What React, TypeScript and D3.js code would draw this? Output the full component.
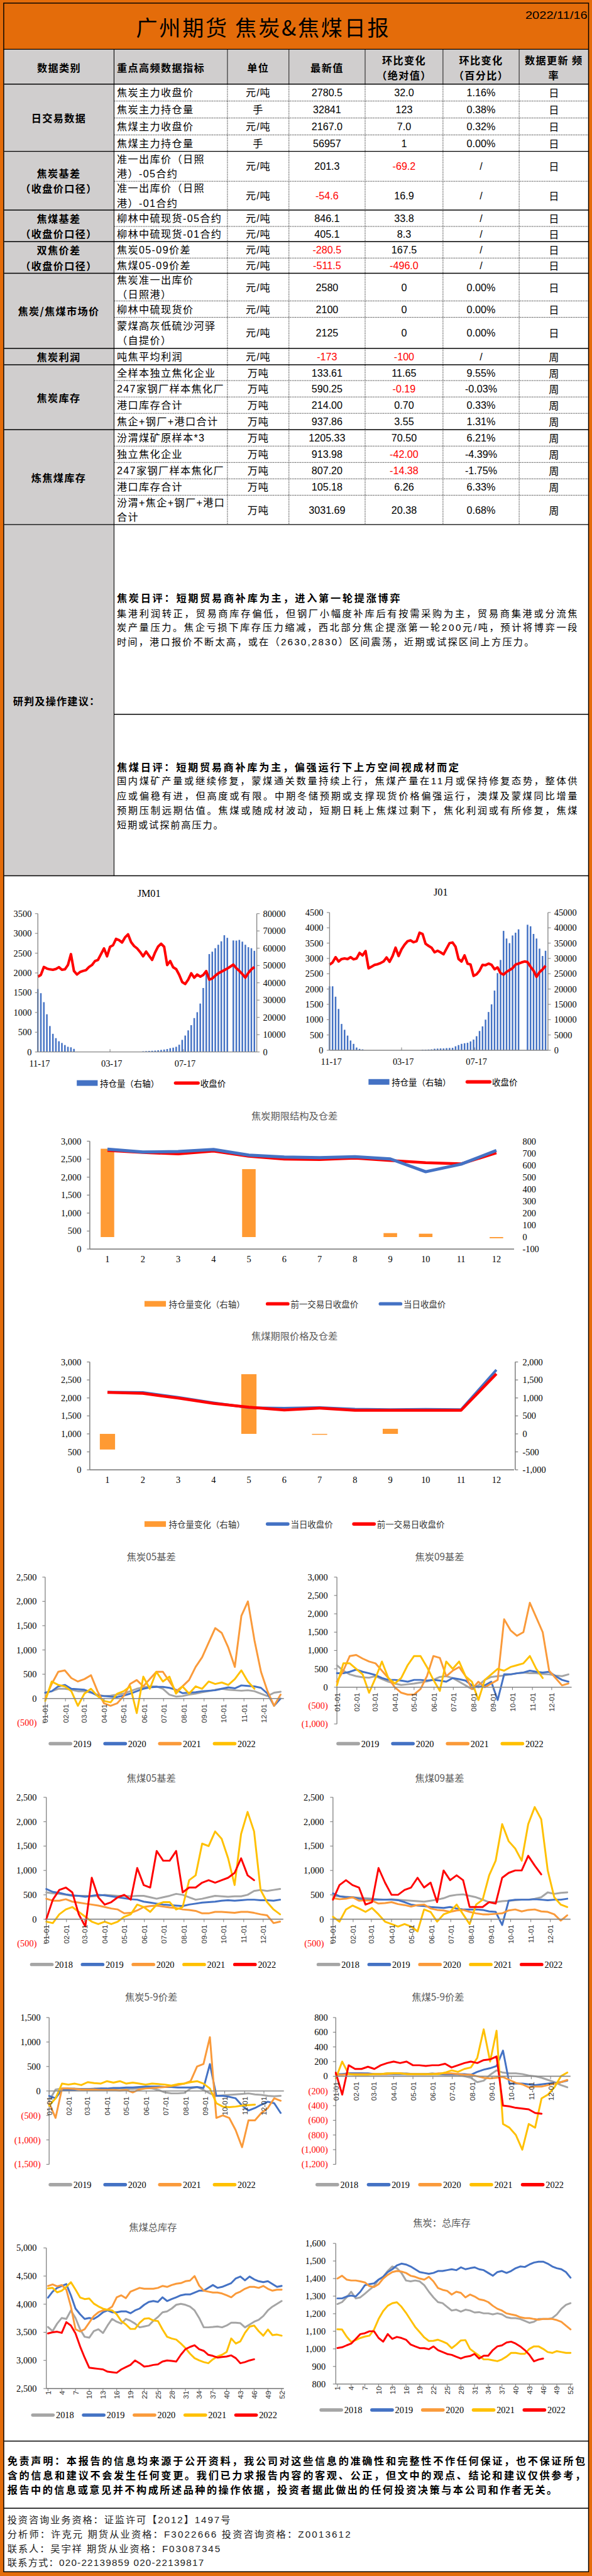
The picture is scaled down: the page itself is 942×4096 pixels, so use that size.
import React from "react";
import * as d3 from "d3";

// ---------------- report text ----------------
const reportTitle = "广州期货  焦炭&焦煤日报";
const reportDate = "2022/11/16";

const headerCols = [["数据类别"], ["重点高频数据指标"], ["单位"], ["最新值"], ["环比变化", "（绝对值）"], ["环比变化", "（百分比）"], ["数据更新 频", "率"]];

const groupNames = [["日交易数据"], ["焦炭基差", "（收盘价口径）"], ["焦煤基差", "（收盘价口径）"], ["双焦价差", "（收盘价口径）"], ["焦炭/焦煤市场价"], ["焦炭利润"], ["焦炭库存"], ["炼焦煤库存"]];
const groupSizes = [4, 2, 2, 2, 3, 1, 4, 5];

const indicators = [
  ["焦炭主力收盘价"], ["焦炭主力持仓量"], ["焦煤主力收盘价"], ["焦煤主力持仓量"],
  ["准一出库价（日照", "港）-05合约"], ["准一出库价（日照", "港）-01合约"],
  ["柳林中硫现货-05合约"], ["柳林中硫现货-01合约"],
  ["焦炭05-09价差"], ["焦煤05-09价差"],
  ["焦炭准一出库价", "（日照港）"], ["柳林中硫现货价"], ["蒙煤高灰低硫沙河驿", "（自提价）"],
  ["吨焦平均利润"],
  ["全样本独立焦化企业"], ["247家钢厂样本焦化厂"], ["港口库存合计"], ["焦企+钢厂+港口合计"],
  ["汾渭煤矿原样本*3"], ["独立焦化企业"], ["247家钢厂样本焦化厂"], ["港口库存合计"], ["汾渭+焦企+钢厂+港口", "合计"],
];
const units = ["元/吨", "手", "元/吨", "手", "元/吨", "元/吨", "元/吨", "元/吨", "元/吨", "元/吨", "元/吨", "元/吨", "元/吨", "元/吨", "万吨", "万吨", "万吨", "万吨", "万吨", "万吨", "万吨", "万吨", "万吨"];
const latest = ["2780.5", "32841", "2167.0", "56957", "201.3", "-54.6", "846.1", "405.1", "-280.5", "-511.5", "2580", "2100", "2125", "-173", "133.61", "590.25", "214.00", "937.86", "1205.33", "913.98", "807.20", "105.18", "3031.69"];
const changeAbs = ["32.0", "123", "7.0", "1", "-69.2", "16.9", "33.8", "8.3", "167.5", "-496.0", "0", "0", "0", "-100", "11.65", "-0.19", "0.70", "3.55", "70.50", "-42.00", "-14.38", "6.26", "20.38"];
const changePct = ["1.16%", "0.38%", "0.32%", "0.00%", "/", "/", "/", "/", "/", "/", "0.00%", "0.00%", "0.00%", "/", "9.55%", "-0.03%", "0.33%", "1.31%", "6.21%", "-4.39%", "-1.75%", "6.33%", "0.68%"];
const freq = ["日", "日", "日", "日", "日", "日", "日", "日", "日", "日", "日", "日", "日", "周", "周", "周", "周", "周", "周", "周", "周", "周", "周"];

const adviceLabel = "研判及操作建议：";
const cokeTitle = "焦炭日评：短期贸易商补库为主，进入第一轮提涨博弈";
const cokeLines = [
  "集港利润转正，贸易商库存偏低，但钢厂小幅度补库后有按需采购为主，贸易商集港或分流焦",
  "炭产量压力。焦企亏损下库存压力缩减，西北部分焦企提涨第一轮200元/吨，预计将博弈一段",
  "时间，港口报价不断太高，或在（2630,2830）区间震荡，近期或试探区间上方压力。",
];
const coalTitle = "焦煤日评：短期贸易商补库为主，偏强运行下上方空间视成材而定";
const coalLines = [
  "国内煤矿产量或继续修复，蒙煤通关数量持续上行，焦煤产量在11月或保持修复态势，整体供",
  "应或偏稳有进，但高度或有限。中期冬储预期或支撑现货价格偏强运行，澳煤及蒙煤同比增量",
  "预期压制远期估值。焦煤或随成材波动，短期日耗上焦煤过剩下，焦化利润或有所修复，焦煤",
  "短期或试探前高压力。",
];
const disclaimer = [
  "免责声明：本报告的信息均来源于公开资料，我公司对这些信息的准确性和完整性不作任何保证，也不保证所包",
  "含的信息和建议不会发生任何变更。我们已力求报告内容的客观、公正，但文中的观点、结论和建议仅供参考，",
  "报告中的信息或意见并不构成所述品种的操作依据，投资者据此做出的任何投资决策与本公司和作者无关。",
];
const contacts = [
  "投资咨询业务资格：证监许可【2012】1497号",
  "分析师：许克元 期货从业资格：F3022666   投资咨询资格：Z0013612",
  "联系人：吴宇祥 期货从业资格：F03087345",
  "联系方式：020-22139859 020-22139817",
];

// ---------------- JM01 / J01 (every 5 days from 2021-11-17) ----------------
const jm01Price = [1905, 1950, 2150, 2110, 2090, 2080, 2100, 2145, 2080, 2090, 2200, 2476, 2050, 1960, 2020, 2050, 2070, 2150, 2200, 2300, 2330, 2476, 2620, 2420, 2660, 2700, 2860, 2830, 2770, 2900, 2975, 2780, 2680, 2620, 2530, 2420, 2540, 2430, 2330, 2520, 2670, 2738, 2660, 2200, 2300, 2143, 2095, 1952, 1770, 1720, 1830, 1990, 1880, 1960, 1905, 1950, 2047, 1830, 1860, 1930, 1990, 2030, 2070, 2110, 2160, 2210, 2120, 2050, 1970, 1880, 2000, 2090, 2150];
const jm01Oi = [36400, 34000, 28800, 21800, 15000, 10500, 8000, 6200, 5200, 4000, 3000, 2700, 1800, 0, 0, 0, 0, 0, 0, 0, 0, 0, 0, 0, 0, 0, 0, 0, 0, 0, 0, 0, 0, 0, 0, 400, 500, 600, 700, 800, 1000, 1200, 1400, 1700, 2200, 2500, 3000, 4200, 7000, 9500, 12500, 15500, 19600, 23000, 28000, 37000, 47000, 56600, 58000, 60000, 62000, 64000, 67500, 66000, 0, 64500, 64400, 64800, 63800, 62000, 60600, 60000, 58500];
const j01Price = [2797, 2870, 3040, 2900, 2980, 3000, 2980, 3040, 2970, 3000, 3180, 3100, 3240, 2675, 2730, 2790, 2810, 2850, 2900, 3030, 2890, 3075, 3350, 3080, 3300, 3450, 3560, 3590, 3530, 3560, 3840, 3800, 3480, 3410, 3350, 3200, 3250, 3200, 3135, 3320, 3500, 3520, 3380, 2980, 2900, 3100, 2830, 2800, 2430, 2480, 2600, 2790, 2780, 2830, 2790, 2645, 2705, 2520, 2470, 2560, 2620, 2680, 2800, 2830, 2870, 2900, 2880, 2730, 2600, 2400, 2550, 2640, 2760];
const j01Oi = [20900, 20900, 17500, 13500, 8600, 6700, 4800, 3200, 2100, 900, 450, 300, 0, 0, 0, 0, 0, 0, 0, 0, 0, 0, 0, 0, 0, 0, 0, 0, 0, 0, 0, 200, 200, 250, 300, 500, 550, 600, 600, 700, 750, 800, 1300, 1700, 2100, 2300, 2450, 2900, 3500, 4600, 6300, 7800, 10000, 12500, 15000, 19500, 25200, 29500, 39000, 36500, 35000, 37500, 38400, 39500, 0, 0, 41000, 40500, 38000, 36500, 33200, 30800, 32500];

// ---------------- term structure ----------------
const contracts = ["1", "2", "3", "4", "5", "6", "7", "8", "9", "10", "11", "12"];
const cokeToday = [2779, 2700, 2711, 2769, 2611, 2559, 2543, 2569, 2507, 2150, 2360, 2743];
const cokePrev = [2743, 2685, 2648, 2727, 2580, 2501, 2491, 2527, 2465, 2402, 2370, 2674];
const cokeOiChange = [737, 0, 0, 0, 567, 0, 0, 0, 33, 28, 0, -10];
const coalToday = [2162, 2152, 2016, 1864, 1728, 1717, 1733, 1691, 1675, 1686, 1675, 2780];
const coalPrev = [2152, 2126, 1995, 1848, 1743, 1665, 1717, 1654, 1654, 1654, 1654, 2670];
const coalOiChange = [-435, 0, 0, 0, 1660, 0, -25, 0, 141, 0, 0, 0];

// ---------------- seasonal series (every 10 days from 01-01) ----------------
const cb05_2019 = [115, 150, 200, 200, 180, 150, 150, 120, 80, 50, 60, 80, 100, 150, 200, 230, 250, 250, 200, 80, 40, 50, 80, 100, 130, 150, 180, 200, 180, 170, 160, 170, 150, 100, 50, 120, 140];
const cb05_2020 = [120, 150, 250, 280, 200, 190, 180, 130, 60, 50, 40, 30, 60, 100, 150, 200, 230, 240, 240, 220, 180, 110, 120, 130, 150, 160, 170, 200, 230, 210, 270, 260, 250, 220, 100, -150, 0];
const cb05_2021 = [0, 300, 550, 580, 420, 350, 400, 480, 150, -100, -150, -100, 50, 300, 380, 250, 400, 550, 550, 350, 150, 250, 380, 650, 850, 1150, 1450, 1350, 1050, 650, 1700, 2000, 1200, 550, 150, -150, 80];
const cb05_2022 = [-50, 350, 280, 250, 150, -150, 100, 200, 50, -50, -80, 100, 150, 250, -300, 450, 200, 550, 350, 450, 100, 250, 100, 250, 200, 350, 300, 330, 280, 400, 580, 350, 200];

const cb09_2019 = [600, 450, 350, 300, 270, 260, 300, 220, 150, 100, 60, 80, 100, 130, 160, 200, 280, 300, 250, 150, 50, -50, 50, 200, 280, 300, 320, 350, 380, 400, 380, 380, 360, 350, 320, 300, 350];
const cb09_2020 = [380, 380, 420, 480, 420, 380, 330, 250, 200, 200, 180, 150, 200, 200, 180, 200, 180, 150, 250, 220, 180, 50, 0, 50, 150, -350, 350, 350, 380, 400, 450, 420, 400, 420, 300, 200, 150];
const cb09_2021 = [150, 450, 850, 880, 780, 700, 650, 450, 250, 0, -150, -200, -200, -50, 300, 850, 800, 300, 450, 550, 300, -50, 150, 0, 100, 200, 1850, 1550, 1400, 1500, 2300, 1900, 1500, 450, 250, 50, 100];
const cb09_2022 = [50, 650, 650, 500, 350, -150, 250, 700, 250, 100, 250, 600, 850, 850, 550, 200, -100, 700, 500, 700, 300, 150, -350, 200, 350, 500, 450, 550, 600, 650, 850, 500, 250];

const jb05_2018 = [550, 530, 520, 500, 480, 480, 480, 470, 480, 500, 490, 480, 480, 470, 480, 480, 450, 420, 450, 480, 520, 500, 450, 400, 420, 450, 480, 470, 460, 470, 470, 500, 580, 600, 580, 600, 620];
const jb05_2019 = [620, 560, 540, 510, 490, 480, 460, 480, 500, 490, 470, 450, 430, 410, 400, 360, 340, 320, 300, 290, 280, 270, 300, 320, 340, 350, 360, 380, 390, 380, 390, 400, 400, 390, 390, 380, 400];
const jb05_2020 = [420, 380, 380, 410, 360, 340, 320, 300, 280, 250, 220, 200, 120, 130, 180, 250, 270, 280, 260, 240, 230, 200, 190, 170, 120, 120, 150, 150, 140, 130, 150, 150, 130, 100, 80, -80, -50];
const jb05_2021 = [-50, -80, 100, 200, 250, 150, 50, -50, -100, -50, -100, -50, 50, 100, 300, 250, 150, 300, 350, 350, 200, 250, 800, 900, 1550, 1500, 1800, 1650, 1250, 700, 1750, 2200, 1800, 600, 350, 200, 100];
const jb05_2022 = [0, 400, 600, 650, 550, 100, -150, 850, 450, 300, 350, 450, 500, 400, 1050, 700, 650, 1400, 1200, 1200, 1400, 550, 650, 650, 750, 800, 750, 800, 850, 950, 1250, 900, 800];

const jb09_2018 = [480, 470, 460, 450, 440, 430, 420, 410, 400, 410, 400, 390, 380, 370, 360, 380, 400, 430, 480, 500, 510, 480, 450, 400, 350, 350, 370, 380, 390, 400, 400, 420, 450, 550, 520, 540, 550];
const jb09_2019 = [530, 470, 450, 450, 420, 400, 400, 400, 400, 400, 390, 350, 300, 280, 270, 250, 240, 230, 250, 220, 200, 200, 200, 190, 160, 150, -120, 380, 400, 400, 400, 410, 400, 390, 400, 400, 420];
const jb09_2020 = [430, 410, 420, 450, 380, 390, 380, 320, 330, 350, 310, 290, 260, 290, 300, 220, 190, 180, 150, 180, 190, 150, 120, 100, 100, 110, 120, 180, 200, 160, 190, 200, 160, 150, 100, -30, 80];
const jb09_2021 = [50, -50, 200, 280, 220, 150, 230, 100, -50, -100, -150, -100, -150, -250, 200, 150, -50, 100, 150, 300, 100, -100, 300, 400, 900, 1200, 1950, 1600, 1450, 1200, 1950, 2300, 2050, 1000, 450, 300, 250];
const jb09_2022 = [400, 700, 800, 700, 650, 300, 350, 1050, 750, 500, 500, 600, 650, 850, 650, 750, 350, 1000, 800, 900, 800, 250, 250, 250, 350, 320, 850, 950, 1000, 1000, 1300, 1100, 920];

const cs59_2019 = [-200, 30, 50, 50, 50, 40, 40, 50, 50, 40, 50, 50, 40, 40, 50, 60, 50, 20, -30, -50, -50, -40, 50, 80, 20, -50, -100, -90, -80, -70, -60, -50, -70, -80, -100, -110, -100];
const cs59_2020 = [-100, -150, 30, 30, 30, 40, 40, 40, 50, 50, 60, 60, 70, 70, 80, 90, 90, 90, 80, 80, 70, 70, 70, 80, 60, 550, -100, -100, -120, -150, -300, -400, -350, -280, -220, -250, -450];
const cs59_2021 = [-250, -550, 50, 50, 40, 30, 30, 30, 20, 20, 20, 10, 20, -30, 30, 50, 60, 70, 80, 100, 120, 150, 200, 500, 550, 1100, -550, -500, -550, -800, -1150, -600, -600, -450, -350, -150, -200];
const cs59_2022 = [-300, -150, 150, 130, 150, 120, 180, 160, 150, 200, 170, 200, 150, 170, 150, 130, 150, 140, 130, 110, 140, 150, 180, 200, 150, 50, -250, -320, -330, -320, -300, -290, -280];

const js59_2018 = [20, 30, 40, 40, 40, 30, 30, 30, 40, 40, 40, 40, 30, 30, 30, 40, 30, 20, 20, 20, 0, -20, -80, -60, 20, 80, 50, 40, 40, 30, 10, 0, -20, -50, -80, -120, -150];
const js59_2019 = [30, 30, 40, 40, 40, 40, 30, 30, 30, 30, 30, 30, 30, 30, 30, 30, 30, 30, 30, 30, 30, 20, 60, 90, 110, 140, 350, -100, -100, -100, -110, -120, -110, -100, -90, -80, -60];
const js59_2020 = [20, 20, 30, 30, 30, 30, 30, 30, 30, 40, 40, 30, 30, 30, 30, 30, 40, 40, 40, 30, 20, 20, 0, -20, -30, -20, -10, -50, -90, -110, -150, -140, -140, -120, -100, -80, -50];
const js59_2021 = [-30, 200, 30, 20, 20, 20, 30, 30, 40, 40, 40, 30, 30, 30, 30, 30, 30, 50, 80, 60, 100, 120, 250, 640, 200, 620, -650, -700, -800, -1000, -650, -700, -300, -250, -150, 0, 50];
const js59_2022 = [50, -250, 150, 100, 100, 130, 100, 150, 180, 200, 180, 200, 150, 150, 140, 150, 150, 170, 120, 150, 180, 200, 180, 220, 230, 270, -400, -410, -430, -440, -450, -500, -510];

// ---------------- weekly inventories (week 1..52) ----------------
const coalInv2018 = [3594, 3521, 3655, 3755, 3738, 3889, 3755, 3554, 3420, 3404, 3521, 3554, 3487, 3621, 3738, 3688, 3655, 3738, 3705, 3655, 3588, 3604, 3621, 3705, 3772, 3855, 3872, 3922, 3989, 4006, 3989, 3956, 3889, 3755, 3588, 3588, 3594, 3604, 3588, 3621, 3671, 3671, 3661, 3588, 3638, 3688, 3722, 3789, 3889, 3956, 4006, 4056];
const coalInv2019 = [4116, 4223, 4290, 4324, 4357, 4157, 3922, 3822, 3738, 3755, 3738, 3789, 3855, 3889, 3855, 3855, 3872, 3872, 3839, 3889, 3922, 3989, 4039, 4056, 4039, 4123, 4056, 4090, 4123, 4157, 4173, 4173, 4207, 4240, 4240, 4290, 4340, 4290, 4307, 4340, 4374, 4458, 4491, 4424, 4491, 4441, 4408, 4391, 4408, 4357, 4307, 4324];
const coalInv2020 = [4324, 4351, 4317, 4340, 4257, 3956, 3554, 3514, 3554, 3671, 3789, 3855, 3889, 3905, 3956, 4123, 4157, 4107, 4223, 4257, 4290, 4274, 4274, 4274, 4290, 4324, 4307, 4340, 4364, 4374, 4408, 4420, 4500, 4330, 4240, 4223, 4207, 4207, 4190, 4157, 4123, 4190, 4223, 4274, 4307, 4307, 4290, 4324, 4274, 4240, 4257, 4257];
const coalInv2021 = [4280, 4290, 4210, 4240, 4310, 4390, 4260, 4120, 4090, 4100, 4010, 3960, 3920, 3900, 3890, 3820, 3700, 3640, 3560, 3560, 3670, 3740, 3750, 3710, 3700, 3550, 3420, 3390, 3370, 3300, 3220, 3120, 3040, 3000, 2970, 2950, 3020, 3070, 3100, 3150, 3390, 3300, 3340, 3490, 3600, 3620, 3520, 3440, 3550, 3450, 3460, 3440];
const coalInv2022 = [3480, 3500, 3510, 3490, 3680, 3620, 3480, 3250, 3050, 2870, 2860, 2850, 2840, 2800, 2790, 2780, 2840, 2880, 2920, 3000, 2950, 2890, 2900, 2920, 2930, 2980, 3000, 2990, 2980, 3100, 3200, 3240, 3270, 3200, 3170, 3100, 3080, 3050, 3060, 3070, 3090, 3040, 2950, 2970, 3000, 3020];

const cokeInv2018 = [1255, 1266, 1293, 1325, 1287, 1293, 1314, 1336, 1357, 1394, 1410, 1443, 1469, 1459, 1432, 1389, 1384, 1389, 1384, 1362, 1325, 1293, 1266, 1260, 1239, 1218, 1223, 1212, 1223, 1218, 1207, 1209, 1202, 1202, 1196, 1202, 1196, 1180, 1175, 1175, 1170, 1159, 1148, 1154, 1170, 1170, 1170, 1175, 1196, 1228, 1250, 1260];
const cokeInv2019 = [1287, 1287, 1298, 1303, 1298, 1325, 1362, 1368, 1373, 1394, 1410, 1437, 1453, 1475, 1485, 1480, 1469, 1453, 1437, 1432, 1427, 1432, 1443, 1443, 1448, 1453, 1448, 1464, 1453, 1459, 1464, 1453, 1448, 1432, 1416, 1437, 1443, 1432, 1443, 1459, 1469, 1466, 1480, 1491, 1496, 1496, 1485, 1469, 1459, 1453, 1437, 1405];
const cokeInv2020 = [1400, 1416, 1394, 1389, 1389, 1384, 1378, 1357, 1352, 1368, 1400, 1421, 1437, 1443, 1440, 1432, 1416, 1410, 1400, 1394, 1410, 1384, 1346, 1336, 1330, 1309, 1325, 1319, 1293, 1309, 1298, 1282, 1277, 1266, 1245, 1228, 1218, 1202, 1196, 1191, 1180, 1175, 1175, 1170, 1166, 1170, 1170, 1170, 1164, 1154, 1132, 1111];
const cokeInv2021 = [1111, 1110, 1070, 1040, 1050, 1062, 1070, 1075, 1110, 1170, 1215, 1245, 1260, 1265, 1240, 1205, 1165, 1125, 1095, 1065, 1045, 1046, 1052, 1042, 1030, 1004, 1024, 1048, 1050, 1000, 980, 961, 940, 940, 935, 930, 940, 956, 977, 977, 972, 972, 1000, 1014, 1014, 1000, 982, 977, 987, 982, 977, 977];
const cokeInv2022 = [1005, 1009, 1020, 1030, 1057, 1084, 1089, 1100, 1100, 1062, 1041, 1084, 1057, 1068, 1062, 1052, 1025, 1014, 1004, 1004, 998, 1014, 993, 982, 971, 966, 955, 945, 955, 959, 971, 945, 961, 961, 993, 1014, 1020, 1036, 1041, 1030, 1014, 993, 966, 929, 939, 945];

// ---------------- style ----------------
const ORANGE = "#E46C0A";
const GRAY_FILL = "#D0CECE";
const AXIS = "#868686";
const C_GRAY = "#A5A5A5";
const C_BLUE = "#4472C4";
const C_ORANGE = "#FA9A3A";
const C_YELLOW = "#FFC000";
const C_RED = "#FF0000";
const F_CJK = "'Noto Sans CJK SC', 'Noto Sans', sans-serif";
const F_NUM = "'Liberation Sans', 'Noto Sans CJK SC', sans-serif";
const F_SERIF = "'Liberation Serif', 'Noto Sans CJK SC', serif";

const colEdges = [7, 202, 403, 512, 647, 785, 920, 1043];
const rowEdges = [149, 179, 209, 239, 268, 321, 372, 401, 428, 457, 484, 533, 562, 617, 646, 674, 703, 732, 761, 790, 819, 848, 877, 929];
const monthStarts = [0, 31, 59, 90, 120, 151, 181, 212, 243, 273, 304, 334];
const weekTicks = d3.range(1, 53, 3);
const SEASON_STEP = 10;
const OI_STEP = 5;

function Lines(p: any) {
  const { x, y, lines, gap = 26, anchor = "start", size = 18, weight = 400, fill = "#000", family = F_NUM, ls = 0 } = p;
  const n = lines.length;
  return (
    <text fontSize={size} fontWeight={weight} fill={fill} fontFamily={family} textAnchor={anchor} dominantBaseline="central" letterSpacing={ls}>
      {lines.map((l: string, i: number) => (
        <tspan key={i} x={x} y={y + (i - (n - 1) / 2) * gap}>{l}</tspan>
      ))}
    </text>
  );
}

function Table() {
  const bounds = [0];
  groupSizes.forEach((s) => bounds.push(bounds[bounds.length - 1] + s));
  const cx = (c: number) => (colEdges[c] + colEdges[c + 1]) / 2;
  const red = (s: string) => (s.startsWith("-") ? C_RED : "#000");
  return (
    <g>
      <rect x={7} y={88} width={1036} height={61} fill={GRAY_FILL} />
      <rect x={7} y={149} width={195} height={1551 - 149} fill={GRAY_FILL} />
      {headerCols.map((h, c) => (
        <Lines key={"hd" + c} x={c === 1 ? 207 : cx(c)} y={119} lines={h} anchor={c === 1 ? "start" : "middle"} weight={700} family={F_CJK} ls={1.5} />
      ))}
      {rowEdges.map((y, k) =>
        bounds.includes(k) ? (
          <line key={"h" + k} x1={7} x2={1043} y1={y} y2={y} stroke="#000" strokeWidth={1.6} />
        ) : (
          <line key={"h" + k} x1={202} x2={1043} y1={y} y2={y} stroke="#000" strokeWidth={1} strokeDasharray="1.5 1.5" />
        )
      )}
      {colEdges.slice(2, 7).map((x, k) => (
        <g key={"v" + k}>
          <line x1={x} x2={x} y1={88} y2={149} stroke="#000" strokeWidth={1} />
          <line x1={x} x2={x} y1={149} y2={929} stroke="#000" strokeWidth={1} strokeDasharray="1.5 1.5" />
        </g>
      ))}
      <line x1={202} x2={202} y1={88} y2={1551} stroke="#000" strokeWidth={1.2} />
      {groupNames.map((g, gi) => (
        <Lines key={"g" + gi} x={104} y={(rowEdges[bounds[gi]] + rowEdges[bounds[gi + 1]]) / 2} lines={g} anchor="middle" weight={700} family={F_CJK} gap={27} ls={1.5} />
      ))}
      {indicators.map((ind, i) => {
        const y = (rowEdges[i] + rowEdges[i + 1]) / 2;
        return (
          <g key={"r" + i}>
            <Lines x={207} y={y} lines={ind} gap={26} ls={1.5} />
            <Lines x={cx(2)} y={y} lines={[units[i]]} anchor="middle" ls={1} />
            <Lines x={cx(3)} y={y} lines={[latest[i]]} anchor="middle" fill={red(latest[i])} />
            <Lines x={cx(4)} y={y} lines={[changeAbs[i]]} anchor="middle" fill={red(changeAbs[i])} />
            <Lines x={cx(5)} y={y} lines={[changePct[i]]} anchor="middle" />
            <Lines x={cx(6)} y={y} lines={[freq[i]]} anchor="middle" family={F_CJK} />
          </g>
        );
      })}
      {/* commentary */}
      <Lines x={23} y={1241} lines={[adviceLabel]} weight={700} family={F_CJK} ls={1.3} />
      <line x1={202} x2={1043} y1={1265} y2={1265} stroke="#000" strokeWidth={1.6} />
      <line x1={7} x2={1043} y1={1551} y2={1551} stroke="#000" strokeWidth={1.6} />
      <text x={207} y={1058} dominantBaseline="central" fontSize={18} fontWeight={700} fontFamily={F_CJK} textLength={502} lengthAdjust="spacing">{cokeTitle}</text>
      {cokeLines.map((l, i) => (
        <text key={"cl" + i} x={207} y={1086 + i * 25.5} dominantBaseline="central" fontSize={17} fontFamily={F_NUM} textLength={i < 2 ? 816 : 739} lengthAdjust="spacing">{l}</text>
      ))}
      <text x={207} y={1358} dominantBaseline="central" fontSize={18} fontWeight={700} fontFamily={F_CJK} textLength={606} lengthAdjust="spacing">{coalTitle}</text>
      {coalLines.map((l, i) => (
        <text key={"jl" + i} x={207} y={1383 + i * 26} dominantBaseline="central" fontSize={17} fontFamily={F_NUM} textLength={i < 3 ? 816 : 188} lengthAdjust="spacing">{l}</text>
      ))}
    </g>
  );
}

function OiChart(p: any) {
  const start = new Date(2021, 10, 17);
  const end = new Date(2022, 10, 16);
  const x = d3.scaleTime().domain([start, end]).range([p.left, p.right]);
  const yl = d3.scaleLinear().domain([0, p.leftMax]).range([p.bottom, p.top]);
  const yr = d3.scaleLinear().domain([0, p.rightMax]).range([p.bottom, p.top]);
  const dates = p.price.map((_: number, i: number) => d3.timeDay.offset(start, i * OI_STEP));
  const line = d3.line().x((_: any, i: number) => x(dates[i])).y((d: any) => yl(d));
  const xt = [start, new Date(2022, 2, 17), new Date(2022, 6, 17)];
  const fmt = d3.timeFormat("%m-%d");
  return (
    <g>
      <text x={p.titleX} y={p.top - 30} textAnchor="middle" fontSize={18} fontFamily={F_SERIF}>{p.title}</text>
      {p.oi.map((v: number, i: number) =>
        v > 0 ? <rect key={i} x={x(dates[i]) - 1.4} y={yr(v)} width={2.8} height={p.bottom - yr(v)} fill={C_BLUE} /> : null
      )}
      <path d={line(p.price) || ""} fill="none" stroke={C_RED} strokeWidth={4.5} strokeLinejoin="round" />
      <line x1={p.left} x2={p.left} y1={p.top} y2={p.bottom} stroke={AXIS} strokeWidth={1.5} />
      <line x1={p.right} x2={p.right} y1={p.top} y2={p.bottom} stroke={AXIS} strokeWidth={1.5} />
      <line x1={p.left} x2={p.right} y1={p.bottom} y2={p.bottom} stroke={AXIS} strokeWidth={1.5} />
      {d3.range(0, p.leftMax + 1, p.leftStep).map((v: number) => (
        <g key={"l" + v}>
          <line x1={p.left - 5} x2={p.left} y1={yl(v)} y2={yl(v)} stroke={AXIS} strokeWidth={1.2} />
          <text x={p.left - 11} y={yl(v)} textAnchor="end" dominantBaseline="central" fontSize={16} fontFamily={F_SERIF}>{v}</text>
        </g>
      ))}
      {d3.range(0, p.rightMax + 1, p.rightStep).map((v: number) => (
        <g key={"r" + v}>
          <line x1={p.right} x2={p.right + 5} y1={yr(v)} y2={yr(v)} stroke={AXIS} strokeWidth={1.2} />
          <text x={p.right + 11} y={yr(v)} dominantBaseline="central" fontSize={16} fontFamily={F_SERIF}>{v}</text>
        </g>
      ))}
      {xt.map((d, i) => (
        <g key={"x" + i}>
          <line x1={x(d)} x2={x(d)} y1={p.bottom - 5} y2={p.bottom} stroke={AXIS} strokeWidth={1.2} />
          <text x={x(d) + 3} y={p.bottom + 20} textAnchor="middle" dominantBaseline="central" fontSize={16} fontFamily={F_SERIF}>{fmt(d)}</text>
        </g>
      ))}
      <rect x={p.legendX} y={p.legendY - 5} width={37} height={10} fill={C_BLUE} />
      <text x={p.legendX + 41} y={p.legendY} dominantBaseline="central" fontSize={15} fontFamily={F_CJK}>持仓量（右轴）</text>
      <line x1={p.legendX + 175} x2={p.legendX + 215} y1={p.legendY} y2={p.legendY} stroke={C_RED} strokeWidth={6} strokeLinecap="round" />
      <text x={p.legendX + 219} y={p.legendY} dominantBaseline="central" fontSize={15} fontFamily={F_CJK}>收盘价</text>
    </g>
  );
}

function CurveChart(p: any) {
  const x = d3.scaleBand().domain(contracts).range([159, 911]);
  const yl = d3.scaleLinear().domain([0, 3000]).range([p.bottom, p.top]);
  const yr = d3.scaleLinear().domain([p.rMin, p.rMax]).range([p.bottom, p.top]);
  const cxp = (c: string) => (x(c) as number) + x.bandwidth() / 2;
  const line = d3.line().x((_: any, i: number) => cxp(contracts[i])).y((d: any) => yl(d));
  const fmt = (v: number) => d3.format(",")(v).replace("−", "-");
  const redPath = <path d={line(p.prev) || ""} fill="none" stroke={C_RED} strokeWidth={5} strokeLinejoin="round" />;
  const bluePath = <path d={line(p.today) || ""} fill="none" stroke={C_BLUE} strokeWidth={p.redOnTop ? 4.5 : 5.5} strokeLinejoin="round" />;
  return (
    <g>
      <text x={522} y={p.titleY} textAnchor="middle" dominantBaseline="central" fontSize={17} fill="#595959" fontFamily={F_CJK}>{p.title}</text>
      {p.oi.map((v: number, i: number) =>
        v !== 0 ? (
          <rect key={i} x={cxp(contracts[i]) - p.barW / 2} y={Math.min(yr(v), yr(0))} width={p.barW} height={Math.abs(yr(v) - yr(0))} fill="#FF9A33" />
        ) : null
      )}
      {p.redOnTop ? bluePath : redPath}
      {p.redOnTop ? redPath : bluePath}
      <line x1={159} x2={159} y1={p.top} y2={p.bottom} stroke={AXIS} strokeWidth={1.8} />
      <line x1={159} x2={911} y1={p.bottom} y2={p.bottom} stroke={AXIS} strokeWidth={2} />
      {p.rightLine ? <line x1={913} x2={913} y1={p.top} y2={p.bottom} stroke={AXIS} strokeWidth={1.8} /> : null}
      {d3.range(0, 3001, 500).map((v: number) => (
        <g key={"l" + v}>
          <line x1={154} x2={159} y1={yl(v)} y2={yl(v)} stroke={AXIS} strokeWidth={1.5} />
          <text x={144} y={yl(v)} textAnchor="end" dominantBaseline="central" fontSize={16} fontFamily={F_SERIF}>{fmt(v)}</text>
        </g>
      ))}
      {d3.range(p.rMin, p.rMax + 1, p.rStep).map((v: number) => (
        <g key={"r" + v}>
          {p.rightLine ? <line x1={913} x2={918} y1={yr(v)} y2={yr(v)} stroke={AXIS} strokeWidth={1.5} /> : null}
          <text x={926} y={yr(v)} dominantBaseline="central" fontSize={16} fontFamily={F_SERIF}>{fmt(v)}</text>
        </g>
      ))}
      {contracts.map((c) => (
        <text key={"c" + c} x={cxp(c)} y={p.bottom + 18} textAnchor="middle" dominantBaseline="central" fontSize={16} fontFamily={F_SERIF}>{c}</text>
      ))}
      {p.legend.map((it: any, i: number) => (
        <g key={"lg" + i}>
          {it.bar ? (
            <rect x={it.x} y={p.legendY - 5} width={38} height={10} fill="#FF9A33" />
          ) : (
            <line x1={it.x + 2} x2={it.x + 38} y1={p.legendY} y2={p.legendY} stroke={it.color} strokeWidth={6} strokeLinecap="round" />
          )}
          <text x={it.x + 43} y={p.legendY} dominantBaseline="central" fontSize={15} fill="#333" fontFamily={F_CJK}>{it.label}</text>
        </g>
      ))}
    </g>
  );
}

function SeasonChart(p: any) {
  const isDay = p.mode === "day";
  const y = d3.scaleLinear().domain([p.min, p.max]).range([p.bottom, p.top]);
  const x = isDay
    ? d3.scaleLinear().domain([0, 365]).range([p.left, p.right])
    : d3.scaleLinear().domain([1, 52]).range([p.left + 3, p.right - 4]);
  const axisY = isDay ? y(0) : y(p.min);
  const line = d3.line().x((_: any, i: number) => x(isDay ? i * SEASON_STEP : i + 1)).y((d: any) => y(d));
  const fmt = d3.format(",");
  const xs = isDay ? monthStarts : weekTicks;
  const lab = (v: number, i: number) => (isDay ? `${String(i + 1).padStart(2, "0")}-01` : String(v));
  const gapBelow = isDay ? 10 : 4;
  return (
    <g>
      <text x={p.titleX} y={p.titleY} textAnchor="middle" dominantBaseline="central" fontSize={17} fill="#595959" fontFamily={F_CJK}>{p.title}</text>
      <line x1={p.left} x2={p.left} y1={p.top} y2={p.bottom} stroke={AXIS} strokeWidth={1.5} />
      {d3.range(p.min, p.max + p.step / 2, p.step).map((v: number) => (
        <g key={"t" + v}>
          <line x1={p.left - 5} x2={p.left} y1={y(v)} y2={y(v)} stroke={AXIS} strokeWidth={1.3} />
          <text x={p.labelX} y={y(v)} textAnchor="end" dominantBaseline="central" fontSize={16} fontFamily={F_SERIF} fill={v < 0 ? C_RED : "#000"}>
            {v < 0 ? `(${fmt(-v)})` : fmt(v)}
          </text>
        </g>
      ))}
      {p.series.map((s: any) => (
        <path key={s.name} d={line(s.values) || ""} fill="none" stroke={s.color} strokeWidth={3.3} strokeLinejoin="round" strokeLinecap="round" />
      ))}
      <line x1={p.left} x2={p.right} y1={axisY} y2={axisY} stroke={AXIS} strokeWidth={1.8} />
      {xs.map((v: number, i: number) => (
        <g key={"x" + i}>
          <line x1={x(v)} x2={x(v)} y1={axisY} y2={axisY + 5} stroke={AXIS} strokeWidth={1.2} />
          <text transform={`translate(${x(v)},${axisY + gapBelow}) rotate(-90)`} textAnchor="end" dominantBaseline="central" fontSize={13} fill="#333" fontFamily={F_NUM}>
            {lab(v, i)}
          </text>
        </g>
      ))}
      {p.series.map((s: any, i: number) => (
        <g key={"lg" + s.name}>
          <line x1={p.legendX + i * p.legendGap + 2} x2={p.legendX + i * p.legendGap + 38} y1={p.legendY} y2={p.legendY} stroke={s.color} strokeWidth={6} strokeLinecap="round" />
          <text x={p.legendX + i * p.legendGap + 43} y={p.legendY} dominantBaseline="central" fontSize={16} fontFamily={F_SERIF}>{s.name}</text>
        </g>
      ))}
    </g>
  );
}

const s4 = (a: number[], b: number[], c: number[], d: number[]) => [
  { name: "2019", color: C_GRAY, values: a },
  { name: "2020", color: C_BLUE, values: b },
  { name: "2021", color: C_ORANGE, values: c },
  { name: "2022", color: C_YELLOW, values: d },
];
const s5 = (a: number[], b: number[], c: number[], d: number[], e: number[]) => [
  { name: "2018", color: C_GRAY, values: a },
  { name: "2019", color: C_BLUE, values: b },
  { name: "2020", color: C_ORANGE, values: c },
  { name: "2021", color: C_YELLOW, values: d },
  { name: "2022", color: C_RED, values: e },
];

export default function App() {
  return (
    <div style={{ position: "absolute", left: 0, top: 0, width: 942, height: 4096, background: ORANGE }}>
      <svg width={942} height={4096} viewBox="0 0 1049 4562" style={{ display: "block" }}>
        <rect x={0} y={0} width={1049} height={4562} fill={ORANGE} />
        <rect x={7} y={88} width={1036} height={4466} fill="#fff" />
        <text x={465} y={64} textAnchor="middle" fontSize={38} fontFamily={F_CJK} textLength={448} lengthAdjust="spacing">{reportTitle}</text>
        <text x={1041} y={33} textAnchor="end" fontSize={19} fontFamily={F_NUM} textLength={110} lengthAdjust="spacingAndGlyphs">{reportDate}</text>
        <line x1={6} x2={1043} y1={87.5} y2={87.5} stroke="#000" strokeWidth={2} />
        <Table />

        <OiChart title="JM01" titleX={264} left={67} right={455} top={1618} bottom={1863} leftMax={3500} leftStep={500} rightMax={80000} rightStep={10000} price={jm01Price} oi={jm01Oi} legendX={136} legendY={1918} />
        <OiChart title="J01" titleX={781} left={584} right={971} top={1616} bottom={1860} leftMax={4500} leftStep={500} rightMax={45000} rightStep={5000} price={j01Price} oi={j01Oi} legendX={653} legendY={1916} />

        <CurveChart title="焦炭期限结构及仓差" titleY={1975} top={2021} bottom={2212} rMin={-100} rMax={800} rStep={100} today={cokeToday} prev={cokePrev} oi={cokeOiChange} barW={24} rightLine={false} redOnTop={false} legendY={2309}
          legend={[{ bar: true, x: 256, label: "持仓量变化（右轴）" }, { color: C_RED, x: 472, label: "前一交易日收盘价" }, { color: C_BLUE, x: 672, label: "当日收盘价" }]} />
        <CurveChart title="焦煤期限价格及仓差" titleY={2365} top={2412} bottom={2603} rMin={-1000} rMax={2000} rStep={500} today={coalToday} prev={coalPrev} oi={coalOiChange} barW={27} rightLine={true} redOnTop={true} legendY={2699}
          legend={[{ bar: true, x: 256, label: "持仓量变化（右轴）" }, { color: C_BLUE, x: 472, label: "当日收盘价" }, { color: C_RED, x: 625, label: "前一交易日收盘价" }]} />

        <SeasonChart mode="day" title="焦炭05基差" titleX={268} titleY={2755} left={80} right={503} top={2793} bottom={3051} min={-500} max={2500} step={500} labelX={65} legendX={87} legendY={3088} legendGap={97} series={s4(cb05_2019, cb05_2020, cb05_2021, cb05_2022)} />
        <SeasonChart mode="day" title="焦炭09基差" titleX={779} titleY={2755} left={597} right={1013} top={2793} bottom={3053} min={-1000} max={3000} step={500} labelX={581} legendX={597} legendY={3088} legendGap={97} series={s4(cb09_2019, cb09_2020, cb09_2021, cb09_2022)} />
        <SeasonChart mode="day" title="焦煤05基差" titleX={268} titleY={3147} left={82} right={502} top={3183} bottom={3442} min={-500} max={2500} step={500} labelX={65} legendX={54} legendY={3479} legendGap={90} series={s5(jb05_2018, jb05_2019, jb05_2020, jb05_2021, jb05_2022)} />
        <SeasonChart mode="day" title="焦煤09基差" titleX={779} titleY={3147} left={590} right={1011} top={3183} bottom={3442} min={-500} max={2500} step={500} labelX={574} legendX={562} legendY={3479} legendGap={90} series={s5(jb09_2018, jb09_2019, jb09_2020, jb09_2021, jb09_2022)} />
        <SeasonChart mode="day" title="焦炭5-9价差" titleX={268} titleY={3535} left={87} right={503} top={3573} bottom={3833} min={-1500} max={1500} step={500} labelX={72} legendX={87} legendY={3869} legendGap={97} series={s4(cs59_2019, cs59_2020, cs59_2021, cs59_2022)} />
        <SeasonChart mode="day" title="焦煤5-9价差" titleX={776} titleY={3535} left={595} right={1011} top={3573} bottom={3833} min={-1200} max={800} step={200} labelX={581} legendX={560} legendY={3869} legendGap={91} series={s5(js59_2018, js59_2019, js59_2020, js59_2021, js59_2022)} />
        <SeasonChart mode="week" title="焦煤总库存" titleX={271} titleY={3943} left={82} right={503} top={3981} bottom={4230} min={2500} max={5000} step={500} labelX={65} legendX={56} legendY={4277} legendGap={90} series={s5(coalInv2018, coalInv2019, coalInv2020, coalInv2021, coalInv2022)} />
        <SeasonChart mode="week" title="焦炭：总库存" titleX={783} titleY={3935} left={595} right={1015} top={3973} bottom={4222} min={800} max={1600} step={100} labelX={577} legendX={567} legendY={4268} legendGap={90} series={s5(cokeInv2018, cokeInv2019, cokeInv2020, cokeInv2021, cokeInv2022)} />

        <line x1={7} x2={1043} y1={4323} y2={4323} stroke="#000" strokeWidth={1.6} />
        {disclaimer.map((l, i) => (
          <text key={"d" + i} x={13} y={4357 + i * 25.5} dominantBaseline="central" fontSize={18} fontWeight={700} fontFamily={F_CJK} textLength={i < 2 ? 1024 : 974} lengthAdjust="spacing">{l}</text>
        ))}
        <line x1={7} x2={1043} y1={4442} y2={4442} stroke="#000" strokeWidth={1.6} />
        {contacts.map((l, i) => (
          <text key={"f" + i} x={13} y={4462 + i * 25.5} dominantBaseline="central" fontSize={17} fill="#222" fontFamily={F_NUM} textLength={[395, 608, 377, 348][i]} lengthAdjust="spacing">{l}</text>
        ))}
        <rect x={6.5} y={5.5} width={1036.5} height={4549} fill="none" stroke="#000" strokeWidth={1.6} />
      </svg>
    </div>
  );
}
